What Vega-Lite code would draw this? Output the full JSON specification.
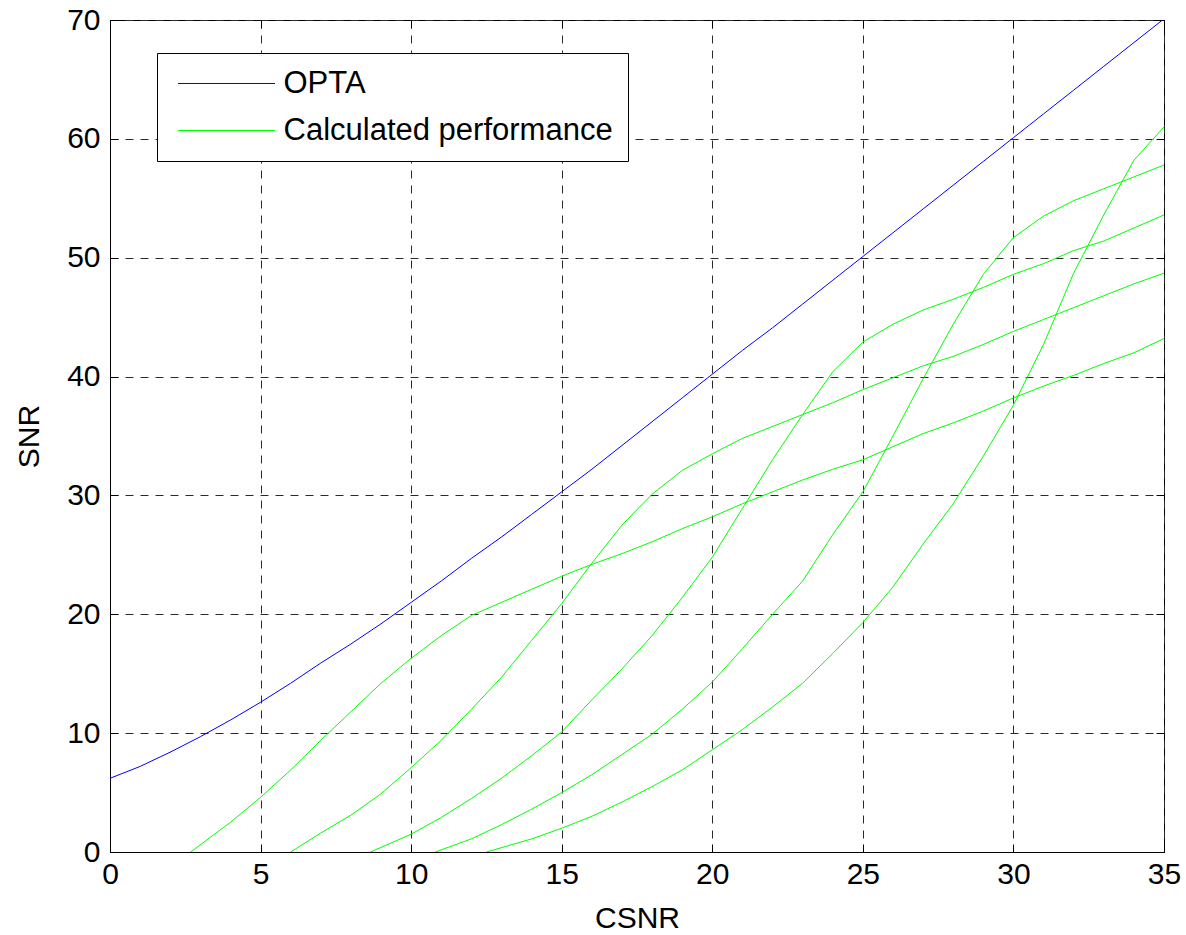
{
  "$schema": "https://vega.github.io/schema/vega-lite/v6.json",
  "width": 1054,
  "height": 832,
  "autosize": {"type": "none"},
  "padding": {"left": 110, "top": 20, "right": 22, "bottom": 83},
  "background": "white",
  "datasets": {
    "opta": [
      {"csnr": 0, "snr": 6.2, "series": "OPTA", "curve": "opta"},
      {"csnr": 1, "snr": 7.2, "series": "OPTA", "curve": "opta"},
      {"csnr": 2, "snr": 8.4, "series": "OPTA", "curve": "opta"},
      {"csnr": 3, "snr": 9.7, "series": "OPTA", "curve": "opta"},
      {"csnr": 4, "snr": 11.1, "series": "OPTA", "curve": "opta"},
      {"csnr": 5, "snr": 12.6, "series": "OPTA", "curve": "opta"},
      {"csnr": 6, "snr": 14.2, "series": "OPTA", "curve": "opta"},
      {"csnr": 7, "snr": 15.9, "series": "OPTA", "curve": "opta"},
      {"csnr": 8, "snr": 17.5, "series": "OPTA", "curve": "opta"},
      {"csnr": 9, "snr": 19.2, "series": "OPTA", "curve": "opta"},
      {"csnr": 10, "snr": 21.0, "series": "OPTA", "curve": "opta"},
      {"csnr": 11, "snr": 22.8, "series": "OPTA", "curve": "opta"},
      {"csnr": 12, "snr": 24.7, "series": "OPTA", "curve": "opta"},
      {"csnr": 13, "snr": 26.5, "series": "OPTA", "curve": "opta"},
      {"csnr": 14, "snr": 28.4, "series": "OPTA", "curve": "opta"},
      {"csnr": 15, "snr": 30.3, "series": "OPTA", "curve": "opta"},
      {"csnr": 16, "snr": 32.2, "series": "OPTA", "curve": "opta"},
      {"csnr": 17, "snr": 34.2, "series": "OPTA", "curve": "opta"},
      {"csnr": 18, "snr": 36.2, "series": "OPTA", "curve": "opta"},
      {"csnr": 19, "snr": 38.2, "series": "OPTA", "curve": "opta"},
      {"csnr": 20, "snr": 40.2, "series": "OPTA", "curve": "opta"},
      {"csnr": 21, "snr": 42.2, "series": "OPTA", "curve": "opta"},
      {"csnr": 22, "snr": 44.1, "series": "OPTA", "curve": "opta"},
      {"csnr": 23, "snr": 46.1, "series": "OPTA", "curve": "opta"},
      {"csnr": 24, "snr": 48.1, "series": "OPTA", "curve": "opta"},
      {"csnr": 25, "snr": 50.1, "series": "OPTA", "curve": "opta"},
      {"csnr": 26, "snr": 52.1, "series": "OPTA", "curve": "opta"},
      {"csnr": 27, "snr": 54.1, "series": "OPTA", "curve": "opta"},
      {"csnr": 28, "snr": 56.1, "series": "OPTA", "curve": "opta"},
      {"csnr": 29, "snr": 58.1, "series": "OPTA", "curve": "opta"},
      {"csnr": 30, "snr": 60.1, "series": "OPTA", "curve": "opta"},
      {"csnr": 31, "snr": 62.1, "series": "OPTA", "curve": "opta"},
      {"csnr": 32, "snr": 64.1, "series": "OPTA", "curve": "opta"},
      {"csnr": 33, "snr": 66.1, "series": "OPTA", "curve": "opta"},
      {"csnr": 34, "snr": 68.1, "series": "OPTA", "curve": "opta"},
      {"csnr": 35, "snr": 70.1, "series": "OPTA", "curve": "opta"}
    ],
    "calc": [
      {"csnr": 2.68, "snr": 0, "series": "Calculated performance", "curve": "c1"},
      {"csnr": 4, "snr": 2.5, "series": "Calculated performance", "curve": "c1"},
      {"csnr": 5, "snr": 4.6, "series": "Calculated performance", "curve": "c1"},
      {"csnr": 6, "snr": 6.9, "series": "Calculated performance", "curve": "c1"},
      {"csnr": 7, "snr": 9.4, "series": "Calculated performance", "curve": "c1"},
      {"csnr": 8, "snr": 11.8, "series": "Calculated performance", "curve": "c1"},
      {"csnr": 9, "snr": 14.2, "series": "Calculated performance", "curve": "c1"},
      {"csnr": 10, "snr": 16.3, "series": "Calculated performance", "curve": "c1"},
      {"csnr": 11, "snr": 18.2, "series": "Calculated performance", "curve": "c1"},
      {"csnr": 12, "snr": 19.9, "series": "Calculated performance", "curve": "c1"},
      {"csnr": 13, "snr": 21.0, "series": "Calculated performance", "curve": "c1"},
      {"csnr": 14, "snr": 22.1, "series": "Calculated performance", "curve": "c1"},
      {"csnr": 15, "snr": 23.2, "series": "Calculated performance", "curve": "c1"},
      {"csnr": 16, "snr": 24.2, "series": "Calculated performance", "curve": "c1"},
      {"csnr": 17, "snr": 25.1, "series": "Calculated performance", "curve": "c1"},
      {"csnr": 18, "snr": 26.1, "series": "Calculated performance", "curve": "c1"},
      {"csnr": 19, "snr": 27.2, "series": "Calculated performance", "curve": "c1"},
      {"csnr": 20, "snr": 28.2, "series": "Calculated performance", "curve": "c1"},
      {"csnr": 21, "snr": 29.3, "series": "Calculated performance", "curve": "c1"},
      {"csnr": 22, "snr": 30.3, "series": "Calculated performance", "curve": "c1"},
      {"csnr": 23, "snr": 31.3, "series": "Calculated performance", "curve": "c1"},
      {"csnr": 24, "snr": 32.2, "series": "Calculated performance", "curve": "c1"},
      {"csnr": 25, "snr": 33.0, "series": "Calculated performance", "curve": "c1"},
      {"csnr": 26, "snr": 34.1, "series": "Calculated performance", "curve": "c1"},
      {"csnr": 27, "snr": 35.2, "series": "Calculated performance", "curve": "c1"},
      {"csnr": 28, "snr": 36.1, "series": "Calculated performance", "curve": "c1"},
      {"csnr": 29, "snr": 37.1, "series": "Calculated performance", "curve": "c1"},
      {"csnr": 30, "snr": 38.2, "series": "Calculated performance", "curve": "c1"},
      {"csnr": 31, "snr": 39.2, "series": "Calculated performance", "curve": "c1"},
      {"csnr": 32, "snr": 40.1, "series": "Calculated performance", "curve": "c1"},
      {"csnr": 33, "snr": 41.1, "series": "Calculated performance", "curve": "c1"},
      {"csnr": 34, "snr": 42.0, "series": "Calculated performance", "curve": "c1"},
      {"csnr": 35, "snr": 43.2, "series": "Calculated performance", "curve": "c1"},

      {"csnr": 6.0, "snr": 0, "series": "Calculated performance", "curve": "c2"},
      {"csnr": 7, "snr": 1.6, "series": "Calculated performance", "curve": "c2"},
      {"csnr": 8, "snr": 3.1, "series": "Calculated performance", "curve": "c2"},
      {"csnr": 9, "snr": 4.9, "series": "Calculated performance", "curve": "c2"},
      {"csnr": 10, "snr": 7.1, "series": "Calculated performance", "curve": "c2"},
      {"csnr": 11, "snr": 9.4, "series": "Calculated performance", "curve": "c2"},
      {"csnr": 12, "snr": 12.0, "series": "Calculated performance", "curve": "c2"},
      {"csnr": 13, "snr": 14.7, "series": "Calculated performance", "curve": "c2"},
      {"csnr": 14, "snr": 17.8, "series": "Calculated performance", "curve": "c2"},
      {"csnr": 15, "snr": 20.9, "series": "Calculated performance", "curve": "c2"},
      {"csnr": 16, "snr": 24.3, "series": "Calculated performance", "curve": "c2"},
      {"csnr": 17, "snr": 27.5, "series": "Calculated performance", "curve": "c2"},
      {"csnr": 18, "snr": 30.1, "series": "Calculated performance", "curve": "c2"},
      {"csnr": 19, "snr": 32.1, "series": "Calculated performance", "curve": "c2"},
      {"csnr": 20, "snr": 33.5, "series": "Calculated performance", "curve": "c2"},
      {"csnr": 21, "snr": 34.8, "series": "Calculated performance", "curve": "c2"},
      {"csnr": 22, "snr": 35.8, "series": "Calculated performance", "curve": "c2"},
      {"csnr": 23, "snr": 36.8, "series": "Calculated performance", "curve": "c2"},
      {"csnr": 24, "snr": 37.8, "series": "Calculated performance", "curve": "c2"},
      {"csnr": 25, "snr": 38.9, "series": "Calculated performance", "curve": "c2"},
      {"csnr": 26, "snr": 39.9, "series": "Calculated performance", "curve": "c2"},
      {"csnr": 27, "snr": 40.9, "series": "Calculated performance", "curve": "c2"},
      {"csnr": 28, "snr": 41.7, "series": "Calculated performance", "curve": "c2"},
      {"csnr": 29, "snr": 42.7, "series": "Calculated performance", "curve": "c2"},
      {"csnr": 30, "snr": 43.8, "series": "Calculated performance", "curve": "c2"},
      {"csnr": 31, "snr": 44.8, "series": "Calculated performance", "curve": "c2"},
      {"csnr": 32, "snr": 45.8, "series": "Calculated performance", "curve": "c2"},
      {"csnr": 33, "snr": 46.8, "series": "Calculated performance", "curve": "c2"},
      {"csnr": 34, "snr": 47.8, "series": "Calculated performance", "curve": "c2"},
      {"csnr": 35, "snr": 48.7, "series": "Calculated performance", "curve": "c2"},

      {"csnr": 8.65, "snr": 0, "series": "Calculated performance", "curve": "c3"},
      {"csnr": 10, "snr": 1.5, "series": "Calculated performance", "curve": "c3"},
      {"csnr": 11, "snr": 2.9, "series": "Calculated performance", "curve": "c3"},
      {"csnr": 12, "snr": 4.5, "series": "Calculated performance", "curve": "c3"},
      {"csnr": 13, "snr": 6.2, "series": "Calculated performance", "curve": "c3"},
      {"csnr": 14, "snr": 8.1, "series": "Calculated performance", "curve": "c3"},
      {"csnr": 15, "snr": 10.1, "series": "Calculated performance", "curve": "c3"},
      {"csnr": 16, "snr": 12.8, "series": "Calculated performance", "curve": "c3"},
      {"csnr": 17, "snr": 15.4, "series": "Calculated performance", "curve": "c3"},
      {"csnr": 18, "snr": 18.2, "series": "Calculated performance", "curve": "c3"},
      {"csnr": 19, "snr": 21.4, "series": "Calculated performance", "curve": "c3"},
      {"csnr": 20, "snr": 24.8, "series": "Calculated performance", "curve": "c3"},
      {"csnr": 21, "snr": 28.9, "series": "Calculated performance", "curve": "c3"},
      {"csnr": 22, "snr": 33.0, "series": "Calculated performance", "curve": "c3"},
      {"csnr": 23, "snr": 36.8, "series": "Calculated performance", "curve": "c3"},
      {"csnr": 24, "snr": 40.4, "series": "Calculated performance", "curve": "c3"},
      {"csnr": 25, "snr": 42.9, "series": "Calculated performance", "curve": "c3"},
      {"csnr": 26, "snr": 44.4, "series": "Calculated performance", "curve": "c3"},
      {"csnr": 27, "snr": 45.6, "series": "Calculated performance", "curve": "c3"},
      {"csnr": 28, "snr": 46.5, "series": "Calculated performance", "curve": "c3"},
      {"csnr": 29, "snr": 47.5, "series": "Calculated performance", "curve": "c3"},
      {"csnr": 30, "snr": 48.6, "series": "Calculated performance", "curve": "c3"},
      {"csnr": 31, "snr": 49.5, "series": "Calculated performance", "curve": "c3"},
      {"csnr": 32, "snr": 50.6, "series": "Calculated performance", "curve": "c3"},
      {"csnr": 33, "snr": 51.4, "series": "Calculated performance", "curve": "c3"},
      {"csnr": 34, "snr": 52.5, "series": "Calculated performance", "curve": "c3"},
      {"csnr": 35, "snr": 53.6, "series": "Calculated performance", "curve": "c3"},

      {"csnr": 10.8, "snr": 0, "series": "Calculated performance", "curve": "c4"},
      {"csnr": 12, "snr": 1.1, "series": "Calculated performance", "curve": "c4"},
      {"csnr": 13, "snr": 2.3, "series": "Calculated performance", "curve": "c4"},
      {"csnr": 14, "snr": 3.6, "series": "Calculated performance", "curve": "c4"},
      {"csnr": 15, "snr": 5.0, "series": "Calculated performance", "curve": "c4"},
      {"csnr": 16, "snr": 6.5, "series": "Calculated performance", "curve": "c4"},
      {"csnr": 17, "snr": 8.2, "series": "Calculated performance", "curve": "c4"},
      {"csnr": 18, "snr": 9.9, "series": "Calculated performance", "curve": "c4"},
      {"csnr": 19, "snr": 12.0, "series": "Calculated performance", "curve": "c4"},
      {"csnr": 20, "snr": 14.3, "series": "Calculated performance", "curve": "c4"},
      {"csnr": 21, "snr": 17.1, "series": "Calculated performance", "curve": "c4"},
      {"csnr": 22, "snr": 20.0, "series": "Calculated performance", "curve": "c4"},
      {"csnr": 23, "snr": 22.8, "series": "Calculated performance", "curve": "c4"},
      {"csnr": 24, "snr": 26.7, "series": "Calculated performance", "curve": "c4"},
      {"csnr": 25, "snr": 30.3, "series": "Calculated performance", "curve": "c4"},
      {"csnr": 26, "snr": 35.0, "series": "Calculated performance", "curve": "c4"},
      {"csnr": 27, "snr": 39.8, "series": "Calculated performance", "curve": "c4"},
      {"csnr": 28, "snr": 44.4, "series": "Calculated performance", "curve": "c4"},
      {"csnr": 29, "snr": 48.6, "series": "Calculated performance", "curve": "c4"},
      {"csnr": 30, "snr": 51.7, "series": "Calculated performance", "curve": "c4"},
      {"csnr": 31, "snr": 53.5, "series": "Calculated performance", "curve": "c4"},
      {"csnr": 32, "snr": 54.8, "series": "Calculated performance", "curve": "c4"},
      {"csnr": 33, "snr": 55.8, "series": "Calculated performance", "curve": "c4"},
      {"csnr": 34, "snr": 56.8, "series": "Calculated performance", "curve": "c4"},
      {"csnr": 35, "snr": 57.8, "series": "Calculated performance", "curve": "c4"},

      {"csnr": 12.5, "snr": 0, "series": "Calculated performance", "curve": "c5"},
      {"csnr": 14, "snr": 1.1, "series": "Calculated performance", "curve": "c5"},
      {"csnr": 15, "snr": 2.0, "series": "Calculated performance", "curve": "c5"},
      {"csnr": 16, "snr": 3.0, "series": "Calculated performance", "curve": "c5"},
      {"csnr": 17, "snr": 4.2, "series": "Calculated performance", "curve": "c5"},
      {"csnr": 18, "snr": 5.5, "series": "Calculated performance", "curve": "c5"},
      {"csnr": 19, "snr": 6.9, "series": "Calculated performance", "curve": "c5"},
      {"csnr": 20, "snr": 8.6, "series": "Calculated performance", "curve": "c5"},
      {"csnr": 21, "snr": 10.3, "series": "Calculated performance", "curve": "c5"},
      {"csnr": 22, "snr": 12.2, "series": "Calculated performance", "curve": "c5"},
      {"csnr": 23, "snr": 14.2, "series": "Calculated performance", "curve": "c5"},
      {"csnr": 24, "snr": 16.7, "series": "Calculated performance", "curve": "c5"},
      {"csnr": 25, "snr": 19.3, "series": "Calculated performance", "curve": "c5"},
      {"csnr": 26, "snr": 22.3, "series": "Calculated performance", "curve": "c5"},
      {"csnr": 27, "snr": 25.9, "series": "Calculated performance", "curve": "c5"},
      {"csnr": 28, "snr": 29.3, "series": "Calculated performance", "curve": "c5"},
      {"csnr": 29, "snr": 33.3, "series": "Calculated performance", "curve": "c5"},
      {"csnr": 30, "snr": 37.6, "series": "Calculated performance", "curve": "c5"},
      {"csnr": 31, "snr": 42.7, "series": "Calculated performance", "curve": "c5"},
      {"csnr": 32, "snr": 48.7, "series": "Calculated performance", "curve": "c5"},
      {"csnr": 33, "snr": 53.6, "series": "Calculated performance", "curve": "c5"},
      {"csnr": 34, "snr": 58.2, "series": "Calculated performance", "curve": "c5"},
      {"csnr": 35, "snr": 61.0, "series": "Calculated performance", "curve": "c5"}
    ]
  },
  "layer": [
    {
      "data": {"name": "opta"},
      "mark": {"type": "line", "strokeWidth": 1, "clip": true},
      "encoding": {
        "x": {
          "field": "csnr", "type": "quantitative",
          "scale": {"domain": [0, 35], "nice": false, "zero": false},
          "axis": {"orient": "bottom", "title": "CSNR", "values": [0, 5, 10, 15, 20, 25, 30, 35], "grid": true, "titlePadding": 14, "labelPadding": 15}
        },
        "y": {
          "field": "snr", "type": "quantitative",
          "scale": {"domain": [0, 70], "nice": false, "zero": false},
          "axis": {"orient": "left", "title": "SNR", "values": [0, 10, 20, 30, 40, 50, 60, 70], "grid": true, "titlePadding": 22, "labelPadding": 18}
        },
        "color": {
          "field": "series", "type": "nominal",
          "scale": {"domain": ["OPTA", "Calculated performance"], "range": ["#0000ff", "#00ff00"]},
          "legend": {"orient": "none", "legendX": 47, "legendY": 33, "title": null}
        },
        "detail": {"field": "curve"},
        "order": {"field": "csnr", "type": "quantitative"}
      }
    },
    {
      "data": {"name": "calc"},
      "mark": {"type": "line", "strokeWidth": 1, "clip": true},
      "encoding": {
        "x": {
          "field": "csnr", "type": "quantitative",
          "scale": {"domain": [0, 35], "nice": false, "zero": false},
          "axis": {"orient": "top", "title": null, "labels": false, "grid": false, "domain": false, "values": [0, 5, 10, 15, 20, 25, 30, 35]}
        },
        "y": {
          "field": "snr", "type": "quantitative",
          "scale": {"domain": [0, 70], "nice": false, "zero": false},
          "axis": {"orient": "right", "title": null, "labels": false, "grid": false, "domain": false, "values": [0, 10, 20, 30, 40, 50, 60, 70]}
        },
        "color": {
          "field": "series", "type": "nominal",
          "scale": {"domain": ["OPTA", "Calculated performance"], "range": ["#0000ff", "#00ff00"]},
          "legend": {"orient": "none", "legendX": 47, "legendY": 33, "title": null}
        },
        "detail": {"field": "curve"},
        "order": {"field": "csnr", "type": "quantitative"}
      }
    }
  ],
  "resolve": {"axis": {"x": "independent", "y": "independent"}},
  "config": {
    "font": "Liberation Sans",
    "view": {"stroke": "black", "strokeWidth": 1},
    "axis": {
      "domainColor": "black",
      "domainWidth": 1,
      "tickColor": "black",
      "tickSize": -8,
      "tickWidth": 1,
      "labelFont": "Liberation Sans",
      "labelFontSize": 30,
      "labelColor": "black",
      "titleFont": "Liberation Sans",
      "titleFontSize": 30,
      "titleFontWeight": "normal",
      "titleColor": "black",
      "gridColor": "#2a2a2a",
      "gridDash": [8, 7],
      "gridWidth": 1,
      "gridOpacity": 1,
      "labelFlush": false,
      "labelOverlap": false
    },
    "legend": {
      "symbolType": "M-4,0H4",
      "symbolSize": 588,
      "symbolStrokeWidth": 1,
      "symbolOffset": 39,
      "labelFont": "Liberation Sans",
      "labelFontSize": 31,
      "labelColor": "black",
      "labelOffset": 41.5,
      "labelLimit": 0,
      "padding": 15,
      "rowPadding": 15,
      "strokeColor": "black",
      "fillColor": "white"
    }
  }
}
